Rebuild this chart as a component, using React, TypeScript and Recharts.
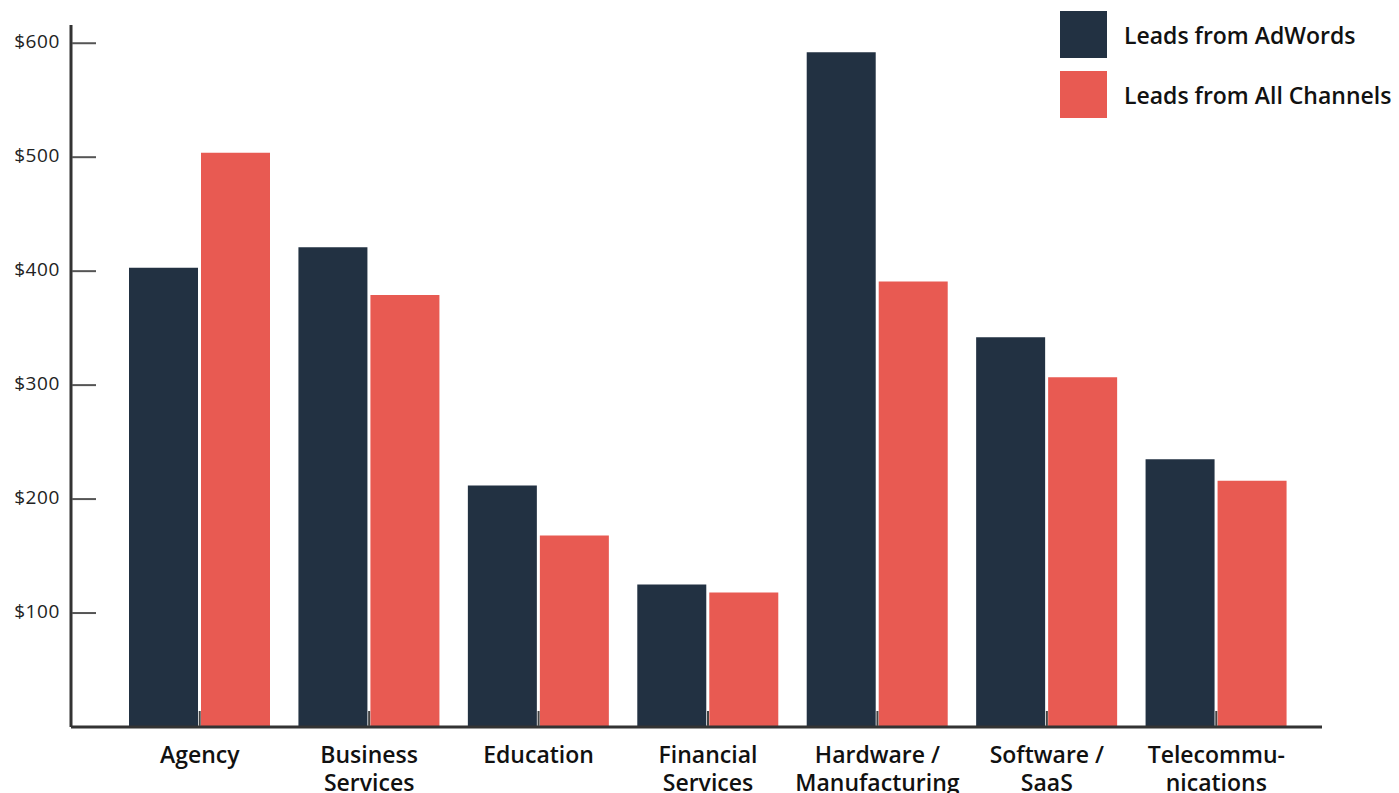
import React from "react";
import { BarChart, Bar, XAxis, YAxis, Legend } from "recharts";

const categories = [
  "Agency",
  "Business\nServices",
  "Education",
  "Financial\nServices",
  "Hardware /\nManufacturing",
  "Software /\nSaaS",
  "Telecommu-\nnications",
];
const adwords = [403, 421, 212, 125, 592, 342, 235];
const allChannels = [504, 379, 168, 118, 391, 307, 216];
const yTicks = [100, 200, 300, 400, 500, 600];
const seriesNames = ["Leads from AdWords", "Leads from All Channels"];
const colors = ["#223142", "#E85A52"];

const data = categories.map((c, i) => ({
  name: c,
  adwords: adwords[i],
  all: allChannels[i],
}));

const FONT = "'Open Sans', sans-serif";

const XTick = (props: any) => {
  const { x, y, payload } = props;
  const lines = String(payload.value).split("\n");
  return (
    <g>
      <line x1={x} x2={x} y1={y - 16} y2={y - 1} stroke="#444" strokeWidth={2} />
      <text
        x={x}
        y={y + 36}
        textAnchor="middle"
        fontFamily={FONT}
        fontWeight={600}
        fontSize={23}
        fill="#111"
      >
        {lines.map((l, i) => (
          <tspan key={i} x={x} dy={i === 0 ? 0 : 28}>
            {l}
          </tspan>
        ))}
      </text>
    </g>
  );
};

const YTick = (props: any) => {
  const { x, y, payload } = props;
  return (
    <g>
      <line x1={x + 1} x2={x + 25} y1={y} y2={y} stroke="#555" strokeWidth={2} />
      <text
        x={x - 11}
        y={y}
        dy={5}
        textAnchor="end"
        fontFamily={FONT}
        fontSize={19}
        letterSpacing={0.6}
        fill="#222"
      >
        {"$" + payload.value}
      </text>
    </g>
  );
};

const LegendContent = () => (
  <div style={{ fontFamily: FONT }}>
    {seriesNames.map((n, i) => (
      <div
        key={n}
        style={{ display: "flex", alignItems: "center", height: 47, marginBottom: i === 0 ? 13 : 0 }}
      >
        <div style={{ width: 47, height: 47, background: colors[i], marginRight: 17 }} />
        <span style={{ fontSize: 23, fontWeight: 600, color: "#111", whiteSpace: "nowrap" }}>{n}</span>
      </div>
    ))}
  </div>
);

export default function App() {
  return (
    <div style={{ position: "absolute", left: 0, top: 0, width: 1399, height: 793, background: "#fff" }}>
      <BarChart
        width={1399}
        height={793}
        data={data}
        margin={{ top: 25, right: 77, bottom: 0, left: 0 }}
        barCategoryGap={14}
        barGap={3}
      >
        <XAxis
          dataKey="name"
          height={66}
          interval={0}
          padding={{ left: 44, right: 21 }}
          axisLine={{ stroke: "#333", strokeWidth: 3 }}
          tickLine={false}
          tickSize={0}
          tickMargin={0}
          tick={<XTick />}
        />
        <YAxis
          width={71}
          domain={[0, 616]}
          ticks={yTicks}
          allowDataOverflow
          axisLine={{ stroke: "#333", strokeWidth: 3 }}
          tickLine={false}
          tickSize={0}
          tickMargin={0}
          tick={<YTick />}
        />
        <Legend
          layout="horizontal"
          verticalAlign="middle"
          align="center"
          content={<LegendContent />}
          wrapperStyle={{ position: "absolute", left: 1060, top: 11, width: 339 }}
        />
        <Bar dataKey="adwords" name={seriesNames[0]} fill={colors[0]} isAnimationActive={false} />
        <Bar dataKey="all" name={seriesNames[1]} fill={colors[1]} isAnimationActive={false} />
      </BarChart>
    </div>
  );
}
